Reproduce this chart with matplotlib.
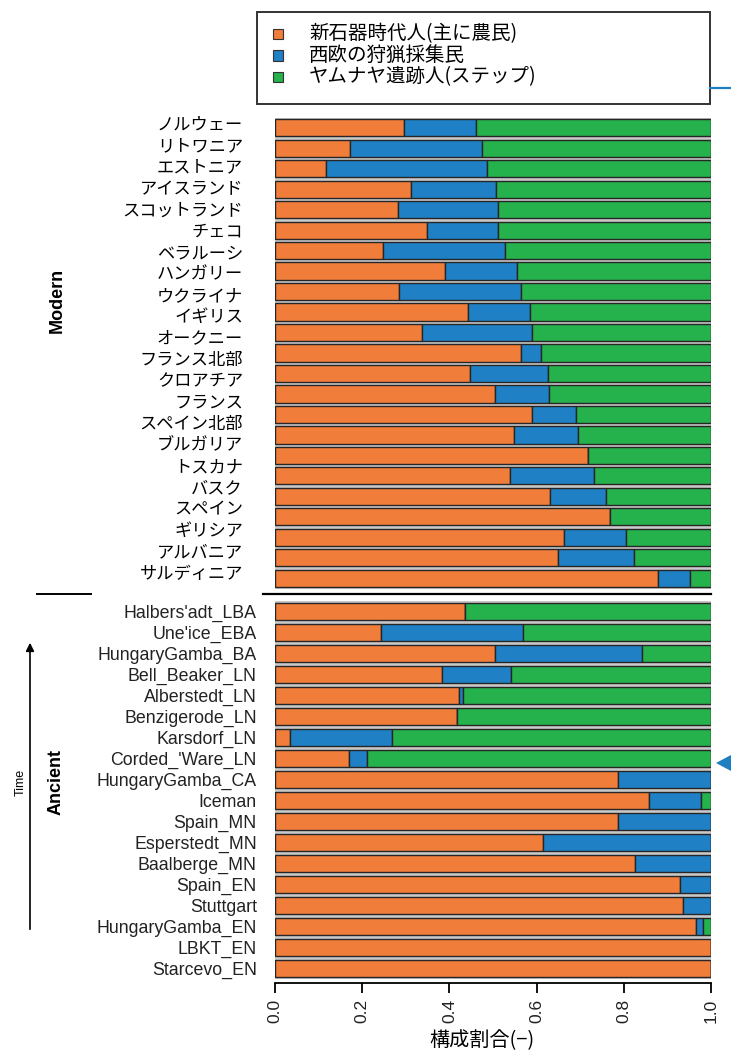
import numpy as np
import matplotlib
matplotlib.use("Agg")
import matplotlib.pyplot as plt
from matplotlib.patches import Rectangle, Polygon, FancyArrowPatch
from matplotlib.lines import Line2D

JP = ["Noto Sans CJK JP", "DejaVu Sans"]
LAT = ["Liberation Sans", "DejaVu Sans"]

# Ancestry components
components = ["新石器時代人(主に農民)", "西欧の狩猟採集民", "ヤムナヤ遺跡人(ステップ)"]
colors = ["#F07D3A", "#1F80C6", "#25B14B"]

# Modern populations (tick labels) and per-bar fractions
modern_labels = ["ノルウェー", "リトワニア", "エストニア", "アイスランド", "スコットランド",
                 "チェコ", "ベラルーシ", "ハンガリー", "ウクライナ", "イギリス", "オークニー",
                 "フランス北部", "クロアチア", "フランス", "スペイン北部", "ブルガリア",
                 "トスカナ", "バスク", "スペイン", "ギリシア", "アルバニア", "サルディニア"]
modern_neolithic = [0.296, 0.171, 0.116, 0.311, 0.281, 0.349, 0.248, 0.389, 0.285, 0.443,
                    0.337, 0.564, 0.448, 0.505, 0.589, 0.548, 0.718, 0.539, 0.631, 0.768,
                    0.662, 0.650, 0.879]
modern_whg = [0.165, 0.304, 0.371, 0.196, 0.230, 0.162, 0.280, 0.165, 0.279, 0.143,
              0.252, 0.047, 0.178, 0.123, 0.101, 0.147, 0.000, 0.192, 0.129, 0.000,
              0.142, 0.173, 0.072]
modern_yamnaya = [0.539, 0.525, 0.513, 0.493, 0.489, 0.489, 0.472, 0.446, 0.436, 0.414,
                  0.411, 0.389, 0.374, 0.372, 0.310, 0.305, 0.282, 0.269, 0.240, 0.232,
                  0.196, 0.177, 0.049]

# Ancient samples
ancient_labels = ["Halbers'adt_LBA", "Une'ice_EBA", "HungaryGamba_BA", "Bell_Beaker_LN",
                  "Alberstedt_LN", "Benzigerode_LN", "Karsdorf_LN", "Corded_'Ware_LN",
                  "HungaryGamba_CA", "Iceman", "Spain_MN", "Esperstedt_MN", "Baalberge_MN",
                  "Spain_EN", "Stuttgart", "HungaryGamba_EN", "LBKT_EN", "Starcevo_EN"]
ancient_neolithic = [0.436, 0.244, 0.505, 0.384, 0.423, 0.418, 0.034, 0.169, 0.787, 0.858,
                     0.787, 0.615, 0.825, 0.930, 0.935, 0.965, 1.000, 1.000]
ancient_whg = [0.000, 0.325, 0.336, 0.157, 0.009, 0.000, 0.235, 0.041, 0.213, 0.118,
               0.213, 0.385, 0.175, 0.070, 0.065, 0.017, 0.000, 0.000]
ancient_yamnaya = [0.564, 0.431, 0.159, 0.459, 0.568, 0.582, 0.731, 0.790, 0.000, 0.024,
                   0.000, 0.000, 0.000, 0.000, 0.000, 0.018, 0.000, 0.000]

xticks = [0.0, 0.2, 0.4, 0.6, 0.8, 1.0]
xtick_labels = ["0.0", "0.2", "0.4", "0.6", "0.8", "1.0"]
xlabel = "構成割合(−)"

W, H = 731, 1054
fig = plt.figure(figsize=(W / 100, H / 100), dpi=100)
fig.patch.set_facecolor("white")


def fx(px):
    return px / W


def fy(py):
    return 1 - py / H


def stacked(ax, parts):
    n = len(parts[0])
    y = np.arange(n)
    left = np.zeros(n)
    for vals, c in zip(parts, colors):
        vals = np.asarray(vals)
        ax.barh(y, vals, left=left, height=0.84, color=c, edgecolor="#262626",
                linewidth=1.0)
        left += vals
    ax.set_xlim(0, 1)
    ax.set_ylim(n - 0.5, -0.5)
    ax.set_facecolor("#c9c9c9")
    for s in ax.spines.values():
        s.set_visible(False)


# Modern panel
ax_m = fig.add_axes([fx(275), fy(588.5), fx(436), (588.5 - 117.5) / H])
stacked(ax_m, [modern_neolithic, modern_whg, modern_yamnaya])
ax_m.set_xticks([])
ax_m.set_yticks(np.linspace(-0.25, 21.7, len(modern_labels)))
ax_m.set_yticklabels(modern_labels, fontfamily=JP, fontsize=12.4)
ax_m.tick_params(axis="y", length=0, pad=23)

# Ancient panel
ax_a = fig.add_axes([fx(275), fy(979), fx(436), (979 - 601) / H])
stacked(ax_a, [ancient_neolithic, ancient_whg, ancient_yamnaya])
ax_a.set_yticks(np.arange(len(ancient_labels)))
ax_a.set_yticklabels(ancient_labels, fontfamily=LAT, fontsize=12.8, color="#222222")
ax_a.tick_params(axis="y", length=0, pad=13)
ax_a.spines["bottom"].set_visible(True)
ax_a.spines["bottom"].set_linewidth(1.3)
ax_a.spines["bottom"].set_position(("outward", 3))
ax_a.set_xticks(xticks)
ax_a.set_xticklabels(xtick_labels, rotation=90, fontfamily=LAT, fontsize=12.5,
                     color="#222222")
ax_a.tick_params(axis="x", length=7.5, width=1.3, pad=3.5)
ax_a.set_xlabel(xlabel, fontfamily=JP, fontsize=14.5)
ax_a.xaxis.set_label_coords((482 - 275) / 436, -(1030 - 979) / 378)

# Separator between panels
fig.add_artist(Line2D([fx(263), fx(711)], [fy(594), fy(594)], color="black", lw=1.6))
fig.add_artist(Line2D([fx(37), fx(91)], [fy(594), fy(594)], color="black", lw=1.4))

# Panel titles and time arrow
fig.text(fx(57), fy(300), "Modern", rotation=90, ha="center", va="center",
         fontfamily=LAT, fontweight="bold", fontsize=13)
fig.text(fx(56), fy(782), "Ancient", rotation=90, ha="center", va="center",
         fontfamily=LAT, fontweight="bold", fontsize=13)
fig.text(fx(21), fy(782), "Time", rotation=90, ha="center", va="center",
         fontfamily=LAT, fontsize=9)
fig.add_artist(FancyArrowPatch((fx(30), fy(932)), (fx(30), fy(640)),
                               transform=fig.transFigure, arrowstyle="-|>",
                               mutation_scale=12, color="black", lw=1.2))

# Legend box
fig.add_artist(Rectangle((fx(257), fy(104)), fx(453), (104 - 12) / H,
                         transform=fig.transFigure, facecolor="white",
                         edgecolor="#333333", lw=1.4))
for i, (name, c) in enumerate(zip(components, colors)):
    yc = 34 + i * 21.5
    fig.add_artist(Rectangle((fx(273), fy(yc + 5)), fx(10), 10 / H,
                             transform=fig.transFigure, facecolor=c,
                             edgecolor="#333333", lw=0.8))
    fig.text(fx(309), fy(yc), name, ha="left", va="center", fontfamily=JP,
             fontsize=14)

# Pointer marks at the right edge
fig.add_artist(Line2D([fx(710), fx(731)], [fy(88), fy(88)], color="#1F7FC0", lw=1.6))
fig.add_artist(Polygon([(fx(716), fy(763)), (fx(731), fy(755)), (fx(731), fy(771))],
                       closed=True, transform=fig.transFigure, facecolor="#1F7FC0",
                       edgecolor="none"))

fig.savefig("out.png", dpi=100)
